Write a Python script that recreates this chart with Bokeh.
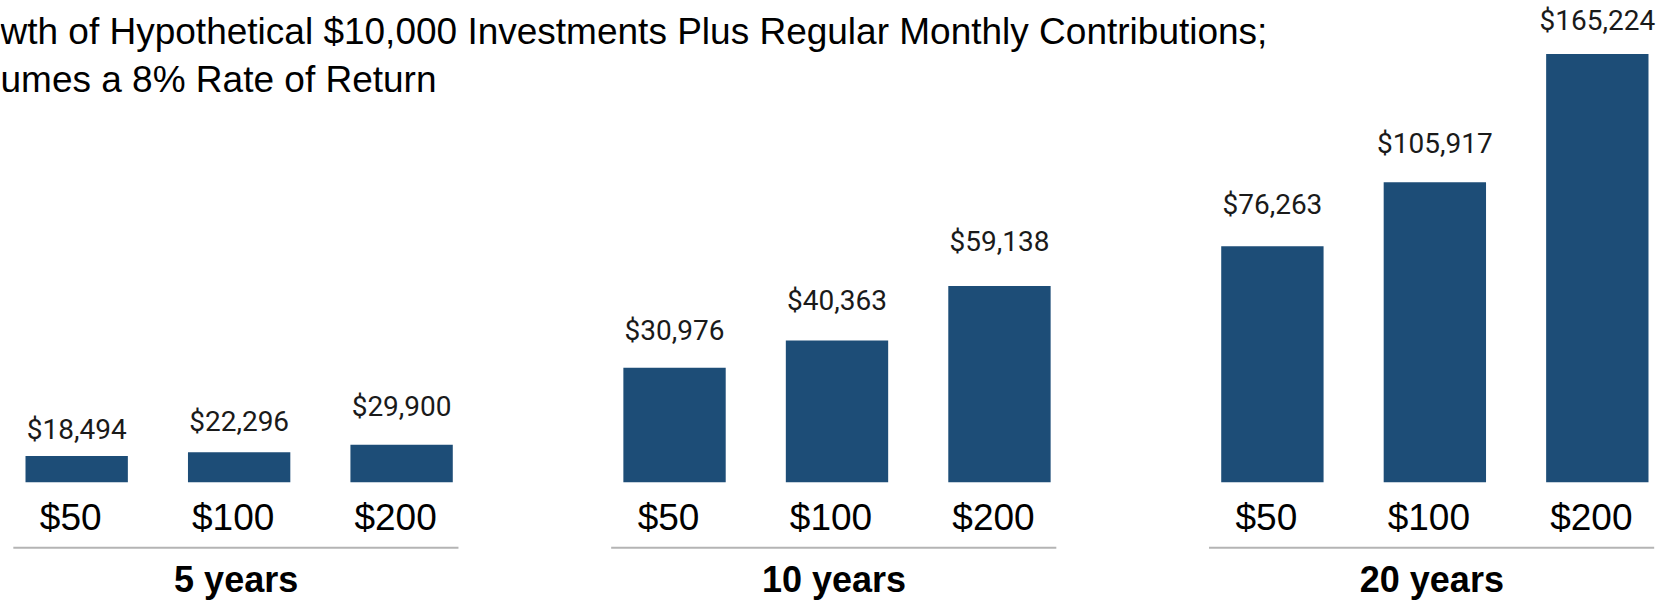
from bokeh.plotting import figure
from bokeh.models import FactorRange, Range1d, Label
from bokeh.core.properties import value
from bokeh.embed import file_html
from bokeh.resources import INLINE

# ---------------- data ----------------
groups = ["5 years", "10 years", "20 years"]
contributions = ["$50", "$100", "$200"]
values_5y = [18494, 22296, 29900]
values_10y = [30976, 40363, 59138]
values_20y = [76263, 105917, 165224]
title_lines = [
    "wth of Hypothetical $10,000 Investments Plus Regular Monthly Contributions;",
    "umes a 8% Rate of Return",
]

# ---------------- style / layout ----------------
W, H = 1673, 604
BASE_PX = 122.3          # baseline of bars, px from bottom
TEXT_SHIFT = 11          # renderer puts the text baseline this much lower
BAR_COLOR = "#1d4d77"
# each group was drawn with its own value axis: value at baseline, value at canvas top
axis_floor = {"5 years": -8000, "10 years": -8500, "20 years": -33000}
axis_ceiling = {"5 years": 478000, "10 years": 157500, "20 years": 190000}
# the data labels of each group follow their own (differently scaled) axis
label_axis = {"5 years": (-61772, 233872), "10 years": (-51619, 138258),
              "20 years": (-111568, 180403)}

series = dict(zip(groups, [values_5y, values_10y, values_20y]))
factors = [(g, c) for g in groups for c in contributions]

p = figure(
    width=W, height=H,
    x_range=FactorRange(*factors, factor_padding=0.0, group_padding=0.68, range_padding=-0.006),
    y_range=Range1d(0, H),
    output_backend="svg", toolbar_location=None,
    x_axis_location=None, y_axis_location=None,
    min_border=0, outline_line_color=None,
    background_fill_color="white", border_fill_color="white",
)
p.grid.visible = False

for i, g in enumerate(groups):
    fl, ce = axis_floor[g], axis_ceiling[g]
    start = fl - BASE_PX / (H - BASE_PX) * (ce - fl)
    rname, lname = f"g{i}", f"l{i}"
    p.extra_y_ranges[rname] = Range1d(start, ce)
    p.extra_y_ranges[lname] = Range1d(*label_axis[g])
    vals = series[g]
    xs = [(g, c) for c in contributions]
    p.vbar(x=xs, top=vals, bottom=fl, width=0.63, y_range_name=rname,
           fill_color=BAR_COLOR, line_color=None)
    p.text(x=xs, y=vals, text=["${:,}".format(v) for v in vals], y_range_name=lname,
           text_align="center", text_baseline="alphabetic", y_offset=-TEXT_SHIFT,
           text_font=value("Roboto"), text_font_size="28px", text_color="#1a1a1a")

# category labels
p.text(x=factors, y=76.5, text=[c for g, c in factors],
       text_align="center", text_baseline="alphabetic", x_offset=-6, y_offset=-TEXT_SHIFT,
       text_font=value("Liberation Sans"), text_font_size="37px", text_color="#000000")

# separators
p.segment(x0=[(g, contributions[0], -0.39) for g in groups], y0=56.7,
          x1=[(g, contributions[-1], 0.35) for g in groups], y1=56.7,
          line_color="#b4b4b4", line_width=2)

# group labels
p.text(x=groups, y=14, text=groups,
       text_align="center", text_baseline="alphabetic", x_offset=-3, y_offset=-TEXT_SHIFT,
       text_font=value("Liberation Sans"), text_font_style="bold",
       text_font_size="36px", text_color="#000000")

# title (cut at left edge as in the source image)
for line, yb in zip(title_lines, [561.7, 514.0]):
    p.add_layout(Label(x=0, y=yb + TEXT_SHIFT, x_units="screen", y_units="screen", text=line,
                       text_font="Liberation Sans", text_font_size="37px",
                       text_baseline="alphabetic", text_color="#000000"))

open("out.html", "w").write(file_html(p, INLINE))
